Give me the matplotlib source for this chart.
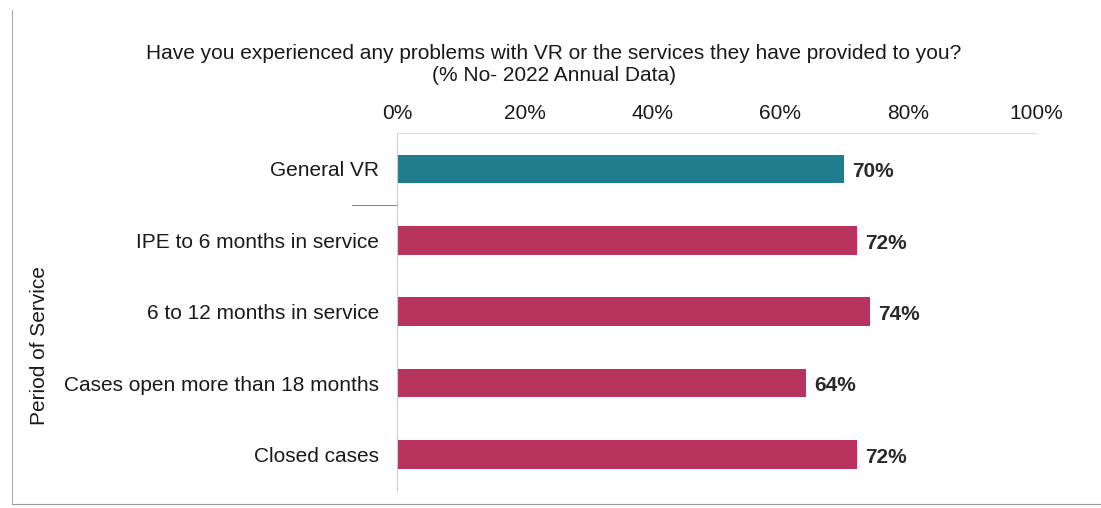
import matplotlib.pyplot as plt
from matplotlib.lines import Line2D

categories = ['General VR', 'IPE to 6 months in service', '6 to 12 months in service',
              'Cases open more than 18 months', 'Closed cases']
values = [70, 72, 74, 64, 72]
bar_colors = ['#217C8E', '#B8325E', '#B8325E', '#B8325E', '#B8325E']
tick_vals = [0, 20, 40, 60, 80, 100]

plt.rcParams['font.family'] = ['Liberation Sans', 'DejaVu Sans']
txt = '#1a1a1a'

fig = plt.figure(figsize=(11.01, 5.08), dpi=100)
ax = fig.add_axes([0.3606, 0.035, 0.5803, 0.703])

y = range(len(categories))
ax.barh(y, values, height=0.4, color=bar_colors)
for i, v in enumerate(values):
    ax.text(v + 1.3, i + 0.04, f'{v}%', va='center', ha='left', fontsize=15,
            fontweight='bold', color='#2a2a2a')

ax.set_xlim(0, 100)
ax.set_ylim(len(categories) - 0.5, -0.5)
ax.set_yticks(list(y))
ax.set_yticklabels(categories, fontsize=15, color=txt)
ax.set_xticks(tick_vals)
ax.set_xticklabels([f'{t}%' for t in tick_vals], fontsize=15, color=txt)
ax.xaxis.tick_top()
ax.tick_params(axis='x', length=0, pad=7)
ax.tick_params(axis='y', length=0, pad=13)

for s in ['right', 'bottom']:
    ax.spines[s].set_visible(False)
ax.spines['top'].set_color('#dddddd')
ax.spines['left'].set_color('#cccccc')

# group separator below General VR
ax.plot([-0.07, 0], [0.5, 0.5], transform=ax.get_yaxis_transform(),
        color='#888888', lw=0.8, clip_on=False)

fig.text(0.503, 0.894, 'Have you experienced any problems with VR or the services they have provided to you?',
         ha='center', va='center', fontsize=15, color=txt)
fig.text(0.503, 0.851, '(% No- 2022 Annual Data)', ha='center', va='center',
         fontsize=15, color=txt)
fig.text(0.036, 0.32, 'Period of Service', rotation=90, ha='center', va='center',
         fontsize=15, color=txt)

# scan border lines
fig.add_artist(Line2D([0.011, 0.011], [0.01, 0.98], color='#aaaaaa', lw=0.8))
fig.add_artist(Line2D([0.011, 1.0], [0.008, 0.008], color='#999999', lw=0.8))

fig.savefig('out.png', dpi=100)
